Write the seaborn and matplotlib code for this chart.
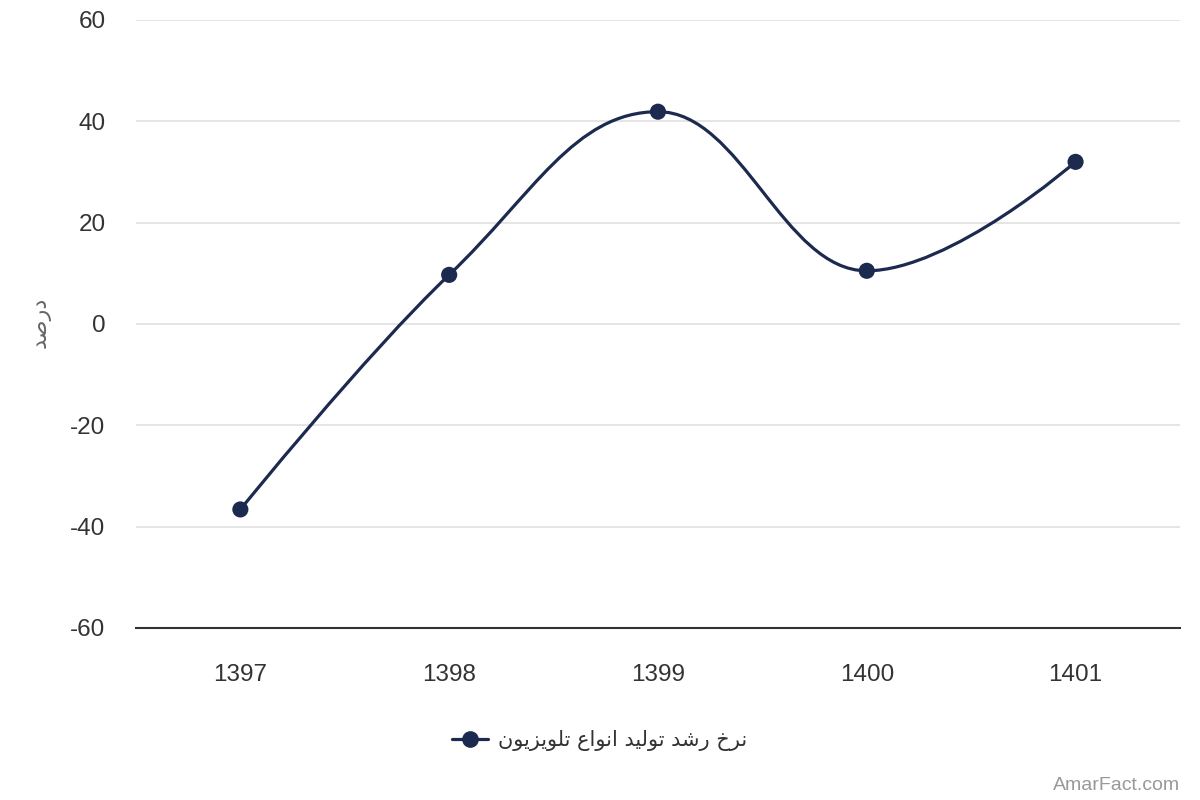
import matplotlib
matplotlib.use('Agg')
import matplotlib.pyplot as plt
import seaborn as sns
import pandas as pd
from matplotlib.path import Path
from matplotlib.patches import PathPatch
from matplotlib.lines import Line2D

# داده‌ها
years = ['1397', '1398', '1399', '1400', '1401']
growth = [-36.6, 9.7, 41.9, 10.5, 32.0]
y_ticks = [-60, -40, -20, 0, 20, 40, 60]
series_name = 'نرخ رشد تولید انواع تلویزیون'
y_title = 'درصد'
watermark = 'AmarFact.com'

LINE_COLOR = '#1b2a4e'

# شکل‌دهی حروف فارسی (matplotlib خودش اتصال و راست‌به‌چپ ندارد)
FORMS = {
    'ا': (0xFE8D, 0xFE8E, None, None),
    'ت': (0xFE95, 0xFE96, 0xFE97, 0xFE98),
    'خ': (0xFEA5, 0xFEA6, 0xFEA7, 0xFEA8),
    'د': (0xFEA9, 0xFEAA, None, None),
    'ر': (0xFEAD, 0xFEAE, None, None),
    'ز': (0xFEAF, 0xFEB0, None, None),
    'ش': (0xFEB5, 0xFEB6, 0xFEB7, 0xFEB8),
    'ص': (0xFEB9, 0xFEBA, 0xFEBB, 0xFEBC),
    'ع': (0xFEC9, 0xFECA, 0xFECB, 0xFECC),
    'ل': (0xFEDD, 0xFEDE, 0xFEDF, 0xFEE0),
    'ن': (0xFEE5, 0xFEE6, 0xFEE7, 0xFEE8),
    'و': (0xFEED, 0xFEEE, None, None),
    'ی': (0xFBFC, 0xFBFD, 0xFBFE, 0xFBFF),
}


def shape_fa(text):
    out = []
    for i, ch in enumerate(text):
        if ch not in FORMS:
            out.append(ch)
            continue
        prev = text[i - 1] if i > 0 else ''
        nxt = text[i + 1] if i + 1 < len(text) else ''
        join_prev = prev in FORMS and FORMS[prev][2] is not None
        join_next = FORMS[ch][2] is not None and nxt in FORMS
        iso, fin, ini, med = FORMS[ch]
        if join_prev and join_next:
            code = med
        elif join_prev:
            code = fin
        elif join_next:
            code = ini
        else:
            code = iso
        out.append(chr(code))
    return ''.join(out)[::-1]


def spline_path(xs, ys, smoothing=1.5):
    # منحنی مشابه spline در Highcharts
    n = len(xs)
    left = [(xs[i], ys[i]) for i in range(n)]
    right = [(xs[i], ys[i]) for i in range(n)]
    denom = smoothing + 1
    for i in range(1, n - 1):
        px, py = xs[i], ys[i]
        lx, ly = xs[i - 1], ys[i - 1]
        nx, ny = xs[i + 1], ys[i + 1]
        lcx = (smoothing * px + lx) / denom
        lcy = (smoothing * py + ly) / denom
        rcx = (smoothing * px + nx) / denom
        rcy = (smoothing * py + ny) / denom
        corr = (rcy - lcy) * (rcx - px) / (rcx - lcx) + py - rcy
        lcy += corr
        rcy += corr
        if lcy > ly and lcy > py:
            lcy = max(ly, py)
            rcy = 2 * py - lcy
        elif lcy < ly and lcy < py:
            lcy = min(ly, py)
            rcy = 2 * py - lcy
        if rcy > ny and rcy > py:
            rcy = max(ny, py)
            lcy = 2 * py - rcy
        elif rcy < ny and rcy < py:
            rcy = min(ny, py)
            lcy = 2 * py - rcy
        left[i] = (lcx, lcy)
        right[i] = (rcx, rcy)
    verts = [(xs[0], ys[0])]
    codes = [Path.MOVETO]
    for i in range(1, n):
        verts += [right[i - 1], left[i], (xs[i], ys[i])]
        codes += [Path.CURVE4] * 3
    return Path(verts, codes)


sns.set_theme(style='white')
plt.rcParams['font.family'] = ['Liberation Sans', 'DejaVu Sans']

df = pd.DataFrame({'x': range(len(years)), 'year': years, 'value': growth})

fig = plt.figure(figsize=(12, 8), dpi=100)
ax = fig.add_axes([0.1133, 0.215, 0.87, 0.76])

ax.add_patch(PathPatch(spline_path(list(df['x']), list(df['value'])),
                       facecolor='none', edgecolor=LINE_COLOR, lw=2.3,
                       capstyle='round', joinstyle='round', zorder=3))
sns.scatterplot(data=df, x='x', y='value', ax=ax, color=LINE_COLOR, s=135,
                edgecolor='none', zorder=4, legend=False)

ax.set_xlim(-0.5, len(years) - 0.5)
ax.set_ylim(-60, 60)
ax.set_yticks(y_ticks)
ax.set_yticklabels([str(t) for t in y_ticks])
ax.set_xticks(df['x'])
ax.set_xticklabels(years)
ax.tick_params(axis='both', length=0, labelsize=17.5, colors='#333333')
ax.tick_params(axis='y', pad=22)
ax.tick_params(axis='x', pad=26)
ax.grid(axis='y', color='#e3e3e3', lw=1.3)
ax.set_axisbelow(True)
for side in ['top', 'right', 'left']:
    ax.spines[side].set_visible(False)
ax.spines['bottom'].set_color('#333333')
ax.spines['bottom'].set_linewidth(1.5)
ax.set_xlabel('')
ax.set_ylabel('')

fig.text(0.034, 0.597, shape_fa(y_title), rotation=90, ha='center', va='center',
         fontsize=16, color='#666666', family=['DejaVu Sans'])

handle = Line2D([0], [0], color=LINE_COLOR, lw=2.3, marker='o', markersize=11)
leg = fig.legend([handle], [shape_fa(series_name)], loc='center',
                 bbox_to_anchor=(0.5, 0.074), frameon=False, handlelength=1.7,
                 handletextpad=0.5, prop={'family': ['DejaVu Sans'], 'size': 15})
for t in leg.get_texts():
    t.set_color('#333333')

fig.text(0.983, 0.008, watermark, ha='right', va='bottom', fontsize=14,
         color='#999999')

fig.savefig('out.png', dpi=100)
plt.close('all')
